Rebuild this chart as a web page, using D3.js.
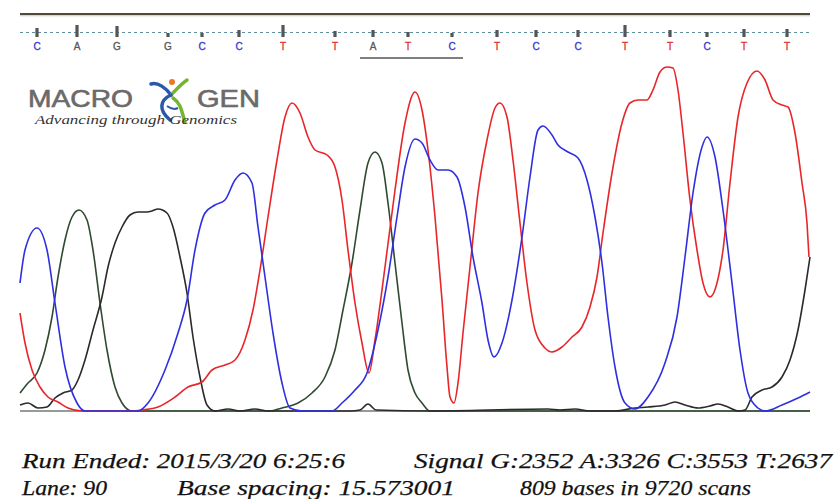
<!DOCTYPE html>
<html><head><meta charset="utf-8">
<script src="https://cdn.jsdelivr.net/npm/d3@7"></script>
<style>html,body{margin:0;padding:0;background:#fff;}svg{display:block;}</style>
</head><body><svg id="chart" width="838" height="499"></svg>
<script>
// ---- data: [scan, signal] ----
const traceC = [[0,128],[5,161],[17,183],[27,161],[35,108],[45,44],[57,8],[65,0],[118,0],[128,8],[145,41],[158,78],[167,111],[175,161],[185,198],[195,206],[205,211],[215,231],[223,238],[232,228],[238,184],[245,134],[253,78],[262,28],[270,3],[282,0],[312,0],[322,8],[335,21],[347,38],[358,81],[368,134],[377,194],[385,244],[395,272],[402,268],[410,251],[418,241],[428,241],[437,234],[445,204],[453,154],[462,108],[468,71],[474,54],[482,68],[492,111],[502,174],[510,234],[518,281],[523,285],[532,276],[538,266],[548,259],[558,253],[567,231],[575,194],[582,148],[588,94],[595,44],[605,8],[615,2],[628,14],[645,48],[657,94],[665,154],[673,218],[682,264],[687,274],[695,254],[703,201],[712,128],[720,61],[728,18],[738,3],[745,0],[762,6],[778,13],[790,19]];
const traceT = [[0,98],[5,68],[12,41],[20,24],[28,14],[38,9],[48,3],[62,0],[112,0],[122,1],[138,4],[155,14],[168,24],[182,29],[192,41],[205,46],[215,51],[225,71],[233,101],[240,141],[248,194],[257,251],[265,294],[272,308],[280,298],[288,274],[295,261],[307,256],[315,244],[322,211],[328,161],[335,108],[342,68],[349,38],[355,71],[365,144],[375,221],[385,288],[395,319],[402,301],[408,261],[415,194],[422,111],[427,44],[430,14],[434,8],[438,28],[443,78],[450,144],[458,218],[467,271],[475,303],[480,308],[487,294],[493,251],[500,188],[507,128],[515,81],[525,63],[532,59],[542,64],[552,74],[562,84],[570,104],[577,134],[583,178],[592,238],[602,288],[610,308],[618,311],[627,311],[633,321],[640,339],[647,344],[653,343],[658,321],[663,278],[670,211],[677,161],[683,128],[690,114],[697,128],[703,161],[710,228],[718,294],[727,328],[737,340],[745,331],[753,311],[762,306],[768,304],[775,278],[782,228],[787,188],[789,154]];
const traceA = [[0,18],[8,28],[17,38],[25,61],[32,94],[38,134],[45,171],[52,194],[59,201],[67,191],[73,161],[80,108],[87,61],[95,24],[102,8],[112,0],[250,0],[262,3],[278,8],[292,18],[305,34],[315,61],[323,101],[332,148],[340,201],[348,248],[355,259],[362,248],[368,208],[375,148],[382,88],[388,41],[395,18],[402,8],[410,0],[790,0]];
const traceG = [[0,6],[8,8],[18,3],[27,4],[35,13],[43,18],[52,21],[58,31],[65,51],[73,81],[82,114],[88,144],[95,168],[102,184],[110,196],[118,199],[127,199],[132,200],[138,202],[147,198],[153,184],[160,154],[167,118],[173,74],[180,34],[187,6],[195,0],[208,2],[220,0],[235,2],[248,0],[330,0],[340,1],[348,7],[356,1],[410,0],[528,2],[540,1],[555,2],[570,0],[595,0],[615,3],[628,4],[645,6],[655,9],[665,6],[678,3],[690,5],[698,7],[708,4],[718,0],[725,1],[732,14],[742,21],[752,24],[762,34],[770,51],[778,81],[785,121],[790,154]];

const baseCalls = ["C","A","G","G","C","C","T","T","A","T","C","T","C","C","T","T","C","T","T"];
const basePositions = [17,57,97,148,182,219,263,315,353,388,432,477,516,558,605,650,687,724,767];
const baseQuality = [9,12,11,4,4,7,12,6,7,5,4,7,7,7,12,7,5,8,8];

const infoLine1 = ["Run Ended: 2015/3/20 6:25:6", "Signal G:2352 A:3326 C:3553 T:2637"];
const infoLine2 = ["Lane: 90", "Base spacing: 15.573001", "809 bases in 9720 scans"];

// ---- drawing ----
const svg = d3.select("#chart");
svg.append("rect").attr("width",838).attr("height",499).attr("fill","#fff");

const x = d3.scaleLinear().domain([0,790]).range([20,810]);
const y = d3.scaleLinear().domain([0,350]).range([411,61]);

// top rule
svg.append("line").attr("x1",x(0)).attr("x2",x(790)).attr("y1",14).attr("y2",14)
  .attr("stroke","#4f4b38").attr("stroke-width",2);
svg.append("line").attr("x1",x(0)).attr("x2",x(790)).attr("y1",15.8).attr("y2",15.8)
  .attr("stroke","#c9c5b2").attr("stroke-width",1);

// dashed base line
svg.append("line").attr("x1",x(0)).attr("x2",x(792)).attr("y1",32.5).attr("y2",32.5)
  .attr("stroke","#5c8f9a").attr("stroke-width",1).attr("stroke-dasharray","3,3");

const baseColor = b => b==="C" ? "#3636d0" : b==="T" ? "#e0302f" : "#555";

svg.append("g").selectAll("rect").data(basePositions).join("rect")
  .attr("x",(d)=>x(d)-1.6).attr("width",3.2)
  .attr("y",(d,i)=>37-baseQuality[i]).attr("height",(d,i)=>baseQuality[i])
  .attr("fill","#555");

svg.append("g").selectAll("text").data(baseCalls).join("text")
  .attr("x",(d,i)=>x(basePositions[i])).attr("y",49.5)
  .attr("text-anchor","middle")
  .attr("font-family","Liberation Sans, Arial, sans-serif").attr("font-size",10)
  .attr("stroke",d=>baseColor(d)).attr("stroke-width",0.3)
  .attr("fill",d=>baseColor(d)).text(d=>d);

// underline under A T C
svg.append("line").attr("x1",360).attr("x2",463).attr("y1",58).attr("y2",58)
  .attr("stroke","#555").attr("stroke-width",1.6);

// logo
const logo = svg.append("g");
logo.append("text").attr("x",28).attr("y",107).attr("font-family","Liberation Sans, Arial, sans-serif")
  .attr("font-size",24).attr("fill","#6a6a6a").attr("stroke","#6a6a6a").attr("stroke-width",0.6)
  .attr("textLength",105).attr("lengthAdjust","spacingAndGlyphs").text("MACRO");
logo.append("text").attr("x",197).attr("y",107).attr("font-family","Liberation Sans, Arial, sans-serif")
  .attr("font-size",24).attr("fill","#6a6a6a").attr("stroke","#6a6a6a").attr("stroke-width",0.6)
  .attr("textLength",63).attr("lengthAdjust","spacingAndGlyphs").text("GEN");
logo.append("path").attr("d","M151,84 C158,82 166,88 171,95").attr("stroke","#2b58a8").attr("stroke-width",3.5).attr("fill","none").attr("stroke-linecap","round");
logo.append("path").attr("d","M171,95 C176,90 181,84 187,80").attr("stroke","#76b530").attr("stroke-width",3.5).attr("fill","none").attr("stroke-linecap","round");
logo.append("path").attr("d","M171,95 C160,100 158,110 170,120").attr("stroke","#2b58a8").attr("stroke-width",3.5).attr("fill","none").attr("stroke-linecap","round");
logo.append("path").attr("d","M173,98 C182,104 182,114 185,122").attr("stroke","#76b530").attr("stroke-width",3.5).attr("fill","none").attr("stroke-linecap","round");
logo.append("path").attr("d","M167,106 C171,109 174,110 178,108").attr("stroke","#2b58a8").attr("stroke-width",2).attr("fill","none");
logo.append("circle").attr("cx",172).attr("cy",82).attr("r",3).attr("fill","#e8782a");
logo.append("text").attr("x",35).attr("y",124).attr("font-family","Liberation Serif, serif")
  .attr("font-style","italic").attr("font-size",11.5).attr("fill","#333")
  .attr("textLength",202).attr("lengthAdjust","spacingAndGlyphs").text("Advancing through Genomics");

// baseline
svg.append("line").attr("x1",x(0)).attr("x2",x(790)).attr("y1",y(0)).attr("y2",y(0))
  .attr("stroke","#6f7d6f").attr("stroke-width",1.5);

const line = d3.line().x(d=>x(d[0])).y(d=>y(d[1])).curve(d3.curveMonotoneX);
const traces = [
  {data:traceA,color:"#2f4a30"},
  {data:traceG,color:"#2a2a2a"},
  {data:traceT,color:"#e8262a"},
  {data:traceC,color:"#2f2fe0"}
];
svg.append("g").selectAll("path").data(traces).join("path")
  .attr("d",d=>line(d.data)).attr("fill","none").attr("stroke",d=>d.color)
  .attr("stroke-width",1.6).attr("stroke-linejoin","round");

// footer info
const ft = svg.append("g").attr("font-family","Liberation Serif, Times New Roman, serif")
  .attr("font-style","italic").attr("font-size",22).attr("fill","#111")
  .attr("stroke","#111").attr("stroke-width",0.25);
const l1x = [22,414], l1w = [323,418];
ft.selectAll("text.l1").data(infoLine1).join("text").attr("class","l1")
  .attr("x",(d,i)=>l1x[i]).attr("y",468).attr("textLength",(d,i)=>l1w[i])
  .attr("lengthAdjust","spacingAndGlyphs").text(d=>d);
const l2x = [22,177,520], l2w = [85,278,231];
ft.selectAll("text.l2").data(infoLine2).join("text").attr("class","l2")
  .attr("x",(d,i)=>l2x[i]).attr("y",495).attr("textLength",(d,i)=>l2w[i])
  .attr("lengthAdjust","spacingAndGlyphs").text(d=>d);
</script></body></html>
